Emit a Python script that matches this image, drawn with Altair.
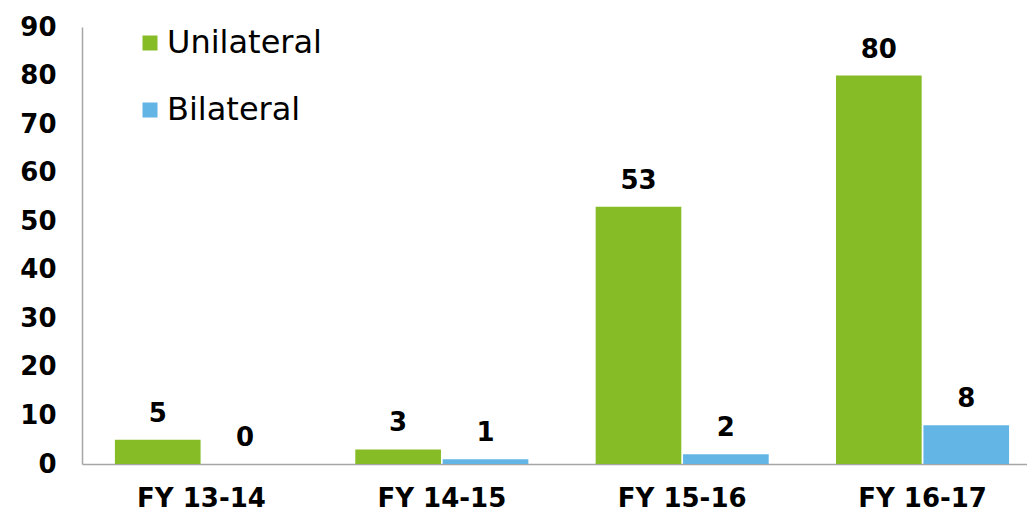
import altair as alt
import pandas as pd

years = ["FY 13-14", "FY 14-15", "FY 15-16", "FY 16-17"]
unilateral = [5, 3, 53, 80]
bilateral = [0, 1, 2, 8]
series = ["Unilateral", "Bilateral"]
colors = ["#86BC25", "#62B5E5"]

rows = []
for i, y in enumerate(years):
    rows.append({"year": y, "type": "Unilateral", "value": unilateral[i]})
    rows.append({"year": y, "type": "Bilateral", "value": bilateral[i]})
df = pd.DataFrame(rows)

font = "DejaVu Sans"
fs = 26

x = alt.X("year:N", sort=years, title=None,
          scale=alt.Scale(paddingInner=0.28, paddingOuter=0.137, range=[0, 960]),
          axis=alt.Axis(labelAngle=0, labelFontSize=fs, labelFontWeight="bold",
                        labelFont=font, labelColor="#000000", ticks=False,
                        labelPadding=21, domainColor="#A6A6A6", domainWidth=1.5))
xo = alt.XOffset("type:N", sort=series, scale=alt.Scale(paddingInner=0.02))
y = alt.Y("value:Q", title=None,
          scale=alt.Scale(domain=[0, 90]),
          axis=alt.Axis(values=list(range(0, 91, 10)), grid=False, ticks=False,
                        labelFontSize=fs, labelFontWeight="bold", labelFont=font,
                        labelColor="#000000", labelPadding=26,
                        domainColor="#A6A6A6", domainWidth=1.5))
color = alt.Color("type:N", sort=series,
                  scale=alt.Scale(domain=series, range=colors),
                  legend=alt.Legend(title=None, orient="none", legendX=52, legendY=0,
                                    symbolType="square", symbolSize=225,
                                    symbolStrokeWidth=0, labelFontSize=32,
                                    labelFont=font, labelColor="#000000",
                                    labelOffset=1, rowPadding=35))

bars = alt.Chart(df).mark_bar().encode(x=x, xOffset=xo, y=y, color=color)
labels = alt.Chart(df).mark_text(dy=-18, baseline="alphabetic", fontSize=fs,
                                 fontWeight="bold", font=font, color="#000000").encode(
    x=x, xOffset=xo, y=y, text="value:Q")

chart = (bars + labels).properties(
    width=945, height=437,
    autosize=alt.AutoSizeParams(type="none"),
    padding={"left": 82, "top": 27, "right": 0, "bottom": 46},
).configure_view(stroke=None)

chart.save("out.html", embed_options={"renderer": "svg", "actions": False})
